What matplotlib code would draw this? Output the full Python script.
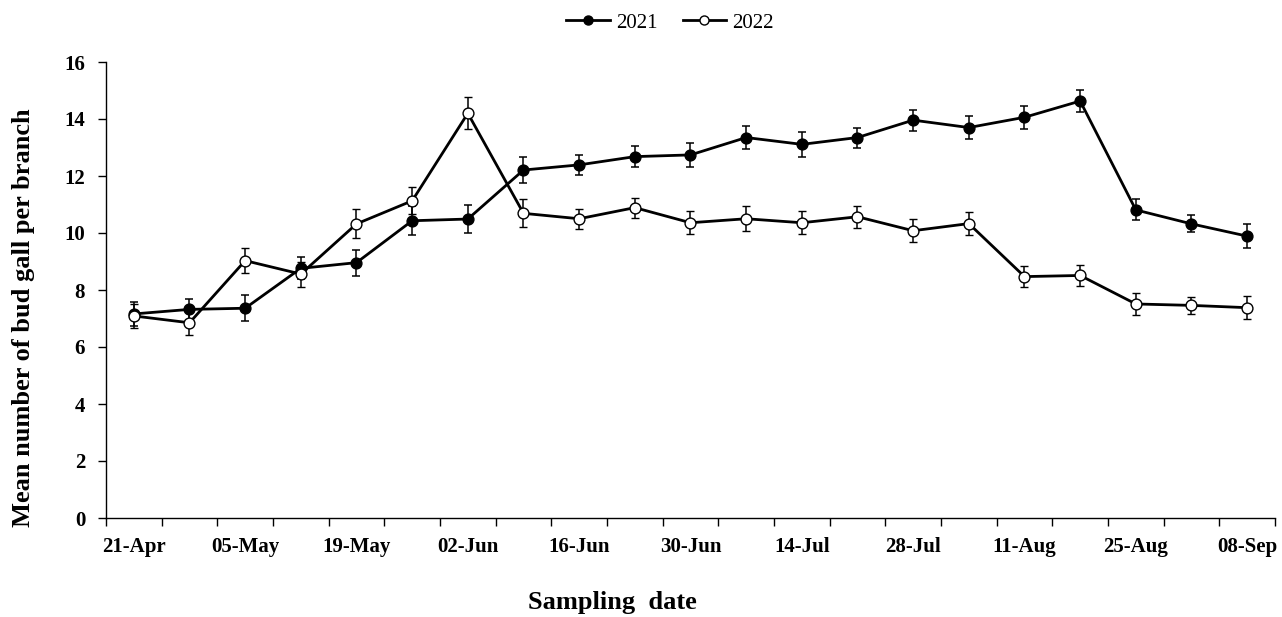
import matplotlib
matplotlib.use("Agg")
import matplotlib.pyplot as plt
from matplotlib.lines import Line2D
import numpy as np

dates = ["21-Apr", "28-Apr", "05-May", "12-May", "19-May", "26-May", "02-Jun",
         "09-Jun", "16-Jun", "23-Jun", "30-Jun", "07-Jul", "14-Jul", "21-Jul",
         "28-Jul", "04-Aug", "11-Aug", "18-Aug", "25-Aug", "01-Sep", "08-Sep"]
y2021 = [7.16, 7.32, 7.36, 8.76, 8.96, 10.43, 10.49, 12.21, 12.39, 12.68, 12.74,
         13.35, 13.11, 13.35, 13.96, 13.70, 14.06, 14.63, 10.81, 10.32, 9.89]
e2021 = [0.42, 0.37, 0.46, 0.39, 0.46, 0.50, 0.50, 0.47, 0.35, 0.37, 0.42,
         0.42, 0.43, 0.35, 0.37, 0.40, 0.40, 0.39, 0.37, 0.30, 0.41]
y2022 = [7.09, 6.85, 9.03, 8.56, 10.32, 11.13, 14.20, 10.69, 10.50, 10.89, 10.36,
         10.50, 10.36, 10.57, 10.08, 10.33, 8.47, 8.51, 7.51, 7.46, 7.38]
e2022 = [0.43, 0.43, 0.45, 0.44, 0.51, 0.48, 0.56, 0.49, 0.35, 0.35, 0.40,
         0.43, 0.40, 0.38, 0.40, 0.40, 0.38, 0.38, 0.38, 0.31, 0.40]
yticks = [0, 2, 4, 6, 8, 10, 12, 14, 16]

plt.rcParams['font.family'] = ['Liberation Serif', 'DejaVu Serif']

W, H = 1282, 617
fig = plt.figure(figsize=(W/100, H/100), dpi=100)
ax = fig.add_axes([106/W, 1 - 518/H, (1275-106)/W, (518-62)/H])

x = np.arange(len(dates))
ekw = dict(elinewidth=1.1, capsize=3.0, capthick=1.1, ecolor='black')
ax.errorbar(x, y2021, yerr=e2021, color='black', lw=2.0, marker='o', ms=7.8,
            mfc='black', mec='black', zorder=3, **ekw)
ax.errorbar(x, y2022, yerr=e2022, color='black', lw=2.0, marker='o', ms=7.8,
            mfc='white', mec='black', mew=1.0, zorder=4, **ekw)

ax.set_xlim(-0.5, len(dates) - 0.5)
ax.set_ylim(0, 16)
ax.set_yticks(yticks)
ax.set_yticklabels([str(v) for v in yticks], fontweight='bold', fontsize=15)

# category-style x axis: ticks at boundaries, labels every other category
ax.set_xticks(np.arange(-0.5, len(dates)), minor=False)
ax.set_xticklabels([])
ax.set_xticks(x[::2], minor=True)
ax.set_xticklabels([dates[i] for i in x[::2]], minor=True, fontweight='bold', fontsize=15)
ax.tick_params(axis='x', which='minor', length=0, pad=14)
ax.tick_params(axis='x', which='major', length=6, width=1, direction='out')
ax.tick_params(axis='y', length=6, width=1, direction='out', pad=9)

for s in ['top', 'right']:
    ax.spines[s].set_visible(False)
for s in ['left', 'bottom']:
    ax.spines[s].set_linewidth(1.0)

fig.text(24/W, 1 - 318/H, 'Mean number of bud gall per branch', rotation=90,
         ha='center', va='center', fontweight='bold', fontsize=19)
fig.text(612/W, 1 - 602/H, 'Sampling  date', ha='center', va='center',
         fontweight='bold', fontsize=19)

handles = [Line2D([], [], color='black', lw=2.0, marker='o', ms=6.5,
                  mfc='black', mec='black'),
           Line2D([], [], color='black', lw=2.0, marker='o', ms=6.5,
                  mfc='white', mec='black', mew=1.0)]
fig.legend(handles, ['2021', '2022'], loc='center',
           bbox_to_anchor=(670/W, 1 - 23/H), ncol=2, frameon=False,
           fontsize=15, handlelength=2.1, columnspacing=1.2, handletextpad=0.3)

fig.savefig('out.png', dpi=100)
